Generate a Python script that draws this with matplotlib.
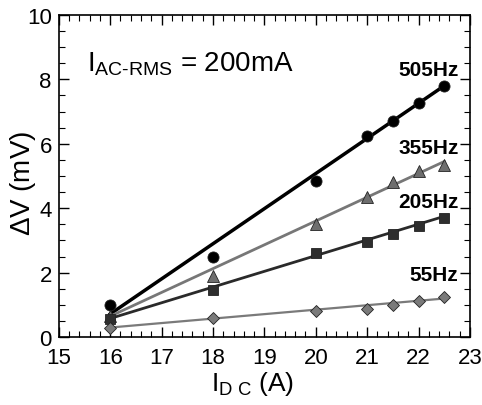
import numpy as np
import matplotlib
matplotlib.use("Agg")
import matplotlib.pyplot as plt
from matplotlib.ticker import MultipleLocator

plt.rcParams["font.family"] = ["Liberation Sans", "DejaVu Sans"]
plt.rcParams["mathtext.fontset"] = "custom"
plt.rcParams["mathtext.rm"] = "Liberation Sans"
plt.rcParams["mathtext.it"] = "Liberation Sans"

# measured points
i_dc = [16, 18, 20, 21, 21.5, 22, 22.5]
dv_505 = [1.0, 2.5, 4.85, 6.25, 6.7, 7.25, 7.8]
dv_355 = [0.65, 1.9, 3.5, 4.35, 4.8, 5.15, 5.35]
dv_205 = [0.55, 1.45, 2.6, 2.95, 3.2, 3.45, 3.7]
dv_55 = [0.27, 0.6, 0.82, 0.88, 1.0, 1.12, 1.25]

# straight-line fits (end points)
fit_x = [16, 22.5]
fit_505 = [0.72, 7.8]
fit_355 = [0.65, 5.45]
fit_205 = [0.58, 3.75]
fit_55 = [0.3, 1.2]

labels = ["505Hz", "355Hz", "205Hz", "55Hz"]
label_y = [8.3, 5.9, 4.2, 1.95]

fig = plt.figure(figsize=(4.82, 4.06), dpi=100)
ax = fig.add_axes([0.122, 0.167, 0.853, 0.794])

series = [
    (dv_505, fit_505, "o", "black", "black", 2.5, 8),
    (dv_355, fit_355, "^", "#6e6e6e", "#777777", 2.0, 8),
    (dv_205, fit_205, "s", "#2e2e2e", "#2a2a2a", 2.0, 7.5),
    (dv_55, fit_55, "D", "#7a7a7a", "#7a7a7a", 1.6, 6),
]
for dv, fit, mk, mcol, lcol, lw, ms in series:
    ax.plot(fit_x, fit, color=lcol, lw=lw, zorder=2)
    ax.plot(i_dc, dv, mk, color=mcol, ms=ms, mec="#222222", mew=0.6, zorder=3)

for lab, y in zip(labels, label_y):
    ax.text(22.78, y, lab, ha="right", va="center", fontsize=15, fontweight="bold")

ax.text(15.55, 8.5, r"$\mathregular{I_{AC\text{-}RMS}}$ = 200mA", fontsize=20,
        ha="left", va="center")

ax.set_xlim(15, 23)
ax.set_ylim(0, 10)
ax.xaxis.set_major_locator(MultipleLocator(1))
ax.xaxis.set_minor_locator(MultipleLocator(0.2))
ax.yaxis.set_major_locator(MultipleLocator(2))
ax.yaxis.set_minor_locator(MultipleLocator(0.5))
ax.tick_params(which="both", direction="in", top=True, right=True, labelsize=16)
ax.tick_params(which="major", length=7, width=1)
ax.tick_params(which="minor", length=4, width=0.8)
ax.tick_params(axis="x", pad=7)
ax.tick_params(axis="y", pad=5)
for sp in ax.spines.values():
    sp.set_linewidth(1.2)

ax.set_ylabel(r"$\mathregular{\Delta}$V (mV)", fontsize=20)
ax.yaxis.set_label_coords(-0.05, 0.48)
ax.set_xlabel(r"$\mathregular{I_{D\ C}}$ (A)", fontsize=19)
ax.xaxis.set_label_coords(0.47, -0.1)
ax.xaxis.label.set_va("top")

fig.savefig("out.png", dpi=100)
